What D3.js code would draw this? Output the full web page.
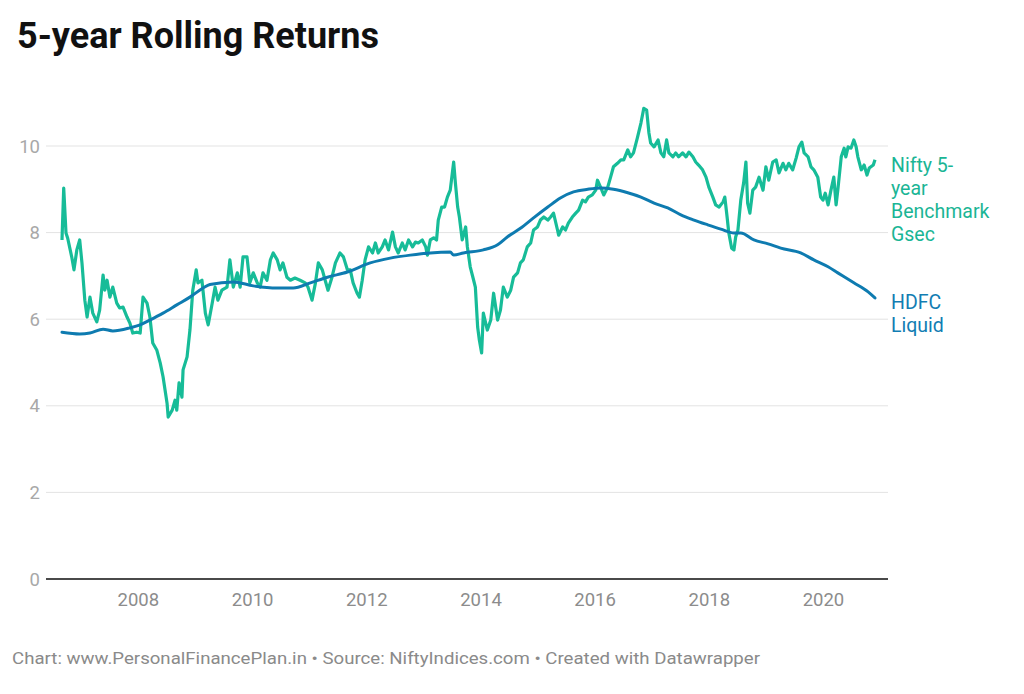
<!DOCTYPE html>
<html>
<head>
<meta charset="utf-8">
<script src="https://cdn.jsdelivr.net/npm/d3@7"></script>
<style>
  body { margin: 0; background: #fff; }
  svg { display: block; font-family: Roboto, "Noto Sans", sans-serif; }
</style>
</head>
<body>
<svg id="chart" width="1024" height="694"></svg>
<script>
// Data (decimal years, % returns)
const niftyYears = [2006.67, 2006.70, 2006.74, 2006.77, 2006.84, 2006.88, 2006.93, 2006.98, 2007.02, 2007.07, 2007.11, 2007.16, 2007.21, 2007.28, 2007.33, 2007.39, 2007.42, 2007.46, 2007.51, 2007.56, 2007.63, 2007.68, 2007.74, 2007.81, 2007.86, 2007.91, 2007.98, 2008.04, 2008.09, 2008.16, 2008.21, 2008.26, 2008.33, 2008.39, 2008.44, 2008.51, 2008.53, 2008.60, 2008.65, 2008.68, 2008.72, 2008.77, 2008.79, 2008.86, 2008.91, 2008.96, 2009.02, 2009.05, 2009.12, 2009.18, 2009.23, 2009.30, 2009.35, 2009.40, 2009.47, 2009.56, 2009.61, 2009.67, 2009.74, 2009.79, 2009.84, 2009.91, 2009.96, 2010.02, 2010.09, 2010.14, 2010.19, 2010.26, 2010.32, 2010.37, 2010.44, 2010.49, 2010.54, 2010.61, 2010.67, 2010.75, 2010.84, 2010.93, 2010.98, 2011.05, 2011.11, 2011.16, 2011.23, 2011.28, 2011.33, 2011.40, 2011.46, 2011.54, 2011.60, 2011.67, 2011.72, 2011.77, 2011.84, 2011.88, 2011.93, 2011.98, 2012.04, 2012.11, 2012.16, 2012.21, 2012.28, 2012.33, 2012.39, 2012.46, 2012.51, 2012.56, 2012.63, 2012.68, 2012.74, 2012.81, 2012.86, 2012.91, 2012.98, 2013.04, 2013.07, 2013.12, 2013.18, 2013.23, 2013.26, 2013.32, 2013.37, 2013.42, 2013.47, 2013.53, 2013.56, 2013.60, 2013.63, 2013.68, 2013.74, 2013.77, 2013.82, 2013.88, 2013.91, 2013.95, 2013.98, 2014.02, 2014.05, 2014.12, 2014.18, 2014.23, 2014.30, 2014.35, 2014.40, 2014.47, 2014.53, 2014.58, 2014.65, 2014.70, 2014.75, 2014.82, 2014.88, 2014.93, 2015.00, 2015.05, 2015.11, 2015.18, 2015.23, 2015.28, 2015.35, 2015.37, 2015.44, 2015.49, 2015.54, 2015.61, 2015.67, 2015.72, 2015.79, 2015.84, 2015.89, 2015.96, 2016.02, 2016.05, 2016.11, 2016.16, 2016.23, 2016.28, 2016.33, 2016.40, 2016.46, 2016.51, 2016.58, 2016.63, 2016.68, 2016.75, 2016.81, 2016.86, 2016.91, 2016.95, 2016.98, 2017.04, 2017.11, 2017.16, 2017.21, 2017.26, 2017.30, 2017.37, 2017.42, 2017.47, 2017.54, 2017.60, 2017.65, 2017.72, 2017.77, 2017.82, 2017.89, 2017.95, 2018.00, 2018.07, 2018.12, 2018.18, 2018.25, 2018.28, 2018.32, 2018.35, 2018.40, 2018.44, 2018.47, 2018.51, 2018.56, 2018.61, 2018.65, 2018.68, 2018.72, 2018.77, 2018.82, 2018.88, 2018.95, 2019.00, 2019.05, 2019.12, 2019.18, 2019.23, 2019.30, 2019.35, 2019.40, 2019.47, 2019.53, 2019.58, 2019.63, 2019.67, 2019.74, 2019.79, 2019.84, 2019.91, 2019.96, 2020.00, 2020.04, 2020.09, 2020.14, 2020.19, 2020.23, 2020.26, 2020.32, 2020.37, 2020.40, 2020.44, 2020.49, 2020.54, 2020.58, 2020.61, 2020.67, 2020.72, 2020.77, 2020.81, 2020.88, 2020.91];
const niftyValues = [7.83, 9.03, 7.99, 7.87, 7.44, 7.14, 7.60, 7.83, 7.30, 6.44, 6.05, 6.51, 6.14, 5.94, 6.21, 7.02, 6.67, 6.90, 6.51, 6.74, 6.37, 6.26, 6.28, 6.05, 5.91, 5.68, 5.70, 5.68, 6.51, 6.37, 6.05, 5.45, 5.29, 4.99, 4.67, 4.06, 3.74, 3.90, 4.13, 3.90, 4.53, 4.20, 4.83, 5.13, 5.75, 6.67, 7.14, 6.84, 6.90, 6.14, 5.87, 6.37, 6.74, 6.44, 6.67, 6.74, 7.37, 6.74, 7.07, 6.74, 7.44, 7.44, 6.84, 7.07, 6.84, 6.74, 7.07, 6.90, 7.37, 7.53, 7.37, 7.14, 7.30, 6.97, 6.90, 6.95, 6.90, 6.84, 6.74, 6.44, 6.84, 7.30, 7.14, 6.90, 6.67, 6.97, 7.30, 7.53, 7.44, 7.14, 7.14, 6.84, 6.60, 6.51, 6.90, 7.37, 7.67, 7.53, 7.76, 7.53, 7.67, 7.83, 7.60, 8.01, 7.67, 7.53, 7.76, 7.60, 7.83, 7.67, 7.78, 7.76, 7.83, 7.67, 7.48, 7.83, 7.88, 7.83, 8.29, 8.59, 8.59, 8.82, 8.98, 9.63, 9.15, 8.59, 8.36, 7.83, 8.13, 7.67, 7.21, 6.90, 6.74, 5.82, 5.52, 5.22, 6.14, 5.75, 5.98, 6.60, 5.98, 6.21, 6.74, 6.51, 6.67, 6.97, 7.07, 7.30, 7.37, 7.67, 7.76, 8.06, 8.13, 8.29, 8.36, 8.29, 8.36, 8.45, 8.06, 7.94, 8.13, 8.06, 8.22, 8.36, 8.45, 8.52, 8.75, 8.71, 8.82, 8.87, 8.98, 9.21, 9.03, 8.87, 9.05, 9.28, 9.52, 9.60, 9.68, 9.68, 9.91, 9.75, 9.84, 10.20, 10.53, 10.87, 10.83, 10.30, 10.07, 9.98, 10.14, 9.84, 9.75, 10.14, 9.84, 9.75, 9.84, 9.75, 9.84, 9.75, 9.86, 9.75, 9.63, 9.56, 9.45, 9.28, 9.05, 8.82, 8.64, 8.59, 8.71, 8.82, 8.36, 7.99, 7.64, 7.60, 7.90, 8.06, 8.75, 9.15, 9.63, 8.68, 8.45, 8.98, 9.05, 9.28, 8.98, 9.52, 9.21, 9.63, 9.68, 9.38, 9.60, 9.45, 9.60, 9.45, 9.72, 9.98, 10.09, 9.84, 9.75, 9.52, 9.45, 9.28, 8.82, 8.75, 8.91, 8.64, 8.98, 9.28, 8.64, 8.98, 9.75, 9.95, 9.75, 9.98, 9.95, 10.14, 9.98, 9.75, 9.45, 9.56, 9.33, 9.49, 9.56, 9.68];

const hdfcYears = [2006.67, 2006.98, 2007.16, 2007.39, 2007.56, 2007.86, 2008.04, 2008.21, 2008.44, 2008.68, 2008.91, 2009.14, 2009.26, 2009.67, 2010.02, 2010.44, 2010.72, 2011.02, 2011.32, 2011.67, 2012.07, 2012.42, 2012.77, 2013.12, 2013.47, 2013.53, 2013.70, 2014.05, 2014.30, 2014.47, 2014.70, 2014.93, 2015.18, 2015.40, 2015.63, 2015.88, 2016.11, 2016.33, 2016.58, 2016.81, 2017.04, 2017.28, 2017.51, 2017.74, 2017.98, 2018.21, 2018.44, 2018.56, 2018.79, 2019.04, 2019.26, 2019.61, 2019.84, 2020.09, 2020.26, 2020.54, 2020.79, 2020.91];
const hdfcValues = [5.70, 5.66, 5.68, 5.77, 5.73, 5.80, 5.87, 5.98, 6.14, 6.33, 6.51, 6.72, 6.80, 6.86, 6.77, 6.72, 6.72, 6.84, 6.97, 7.09, 7.30, 7.41, 7.48, 7.53, 7.55, 7.48, 7.53, 7.60, 7.72, 7.90, 8.10, 8.34, 8.59, 8.80, 8.94, 9.00, 9.03, 9.00, 8.92, 8.82, 8.68, 8.57, 8.41, 8.29, 8.18, 8.08, 7.99, 7.99, 7.83, 7.74, 7.64, 7.53, 7.37, 7.21, 7.07, 6.84, 6.63, 6.49];

const yTicks = [0, 2, 4, 6, 8, 10];
const xTickYears = [2008, 2010, 2012, 2014, 2016, 2018, 2020];

const niftyLabel = ["Nifty 5-", "year", "Benchmark", "Gsec"];
const hdfcLabel = ["HDFC", "Liquid"];

const GREEN = "#17bc98";
const BLUE = "#0e7bb0";

// decimal year -> Date
function toDate(y) {
    const yr = Math.floor(y);
    const start = new Date(yr, 0, 1), end = new Date(yr + 1, 0, 1);
    return new Date(+start + (y - yr) * (end - start));
}

const nifty = niftyYears.map((y, i) => ({ date: toDate(y), value: niftyValues[i] }));
const hdfc = hdfcYears.map((y, i) => ({ date: toDate(y), value: hdfcValues[i] }));

const svg = d3.select("#chart");

const x = d3.scaleTime()
    .domain([toDate(2006.67), toDate(2020.91)])
    .range([62, 875]);
const y = d3.scaleLinear()
    .domain([0, 10])
    .range([579, 146]);

// Title
svg.append("text")
    .attr("x", 17).attr("y", 48)
    .attr("font-size", 36).attr("font-weight", 700)
    .attr("fill", "#111")
    .text("5-year Rolling Returns");

// Gridlines + y labels
const grid = svg.append("g");
grid.selectAll("line")
    .data(yTicks.filter(d => d > 0))
    .enter().append("line")
    .attr("x1", 46).attr("x2", 888)
    .attr("y1", d => y(d)).attr("y2", d => y(d))
    .attr("stroke", "#e3e3e3").attr("stroke-width", 1);

grid.selectAll("text")
    .data(yTicks)
    .enter().append("text")
    .attr("x", 40)
    .attr("y", d => y(d))
    .attr("dy", "0.36em")
    .attr("text-anchor", "end")
    .attr("font-size", 18.5)
    .attr("fill", "#a8a8a8")
    .text(d => d);

// x axis
const xAxis = d3.axisBottom(x)
    .tickValues(xTickYears.map(toDate))
    .tickFormat(d3.timeFormat("%Y"))
    .tickSize(0)
    .tickPadding(14);

const xg = svg.append("g")
    .attr("transform", `translate(0,${y(0)})`)
    .call(xAxis);
xg.select(".domain").remove();
xg.selectAll("text")
    .attr("font-size", 18.5)
    .attr("font-family", "Roboto, sans-serif")
    .attr("fill", "#8c8c8c");

svg.append("line")
    .attr("x1", 46).attr("x2", 888)
    .attr("y1", y(0)).attr("y2", y(0))
    .attr("stroke", "#4a4a4a").attr("stroke-width", 2);

// Lines
const line = d3.line()
    .x(d => x(d.date))
    .y(d => y(d.value));

svg.append("path")
    .datum(nifty)
    .attr("fill", "none")
    .attr("stroke", GREEN)
    .attr("stroke-width", 3.2)
    .attr("stroke-linejoin", "round")
    .attr("d", line);

svg.append("path")
    .datum(hdfc)
    .attr("fill", "none")
    .attr("stroke", BLUE)
    .attr("stroke-width", 3)
    .attr("stroke-linejoin", "round")
    .attr("stroke-linecap", "round")
    .attr("d", line.curve(d3.curveMonotoneX));

// Series labels
function addLabel(lines, top, color) {
    svg.append("text")
        .attr("x", 891).attr("y", top)
        .attr("font-size", 19.5)
        .attr("fill", color)
        .selectAll("tspan")
        .data(lines)
        .enter().append("tspan")
        .attr("x", 891)
        .attr("dy", (d, i) => i === 0 ? 0 : 23)
        .text(d => d);
}
addLabel(niftyLabel, 172, "#1ab595");
addLabel(hdfcLabel, 309, "#127db3");

// Footer
svg.append("text")
    .attr("x", 12).attr("y", 664)
    .attr("font-size", 17)
    .attr("fill", "#8a8a8a")
    .attr("textLength", 748)
    .attr("lengthAdjust", "spacingAndGlyphs")
    .text("Chart: www.PersonalFinancePlan.in • Source: NiftyIndices.com • Created with Datawrapper");
</script>
</body>
</html>
